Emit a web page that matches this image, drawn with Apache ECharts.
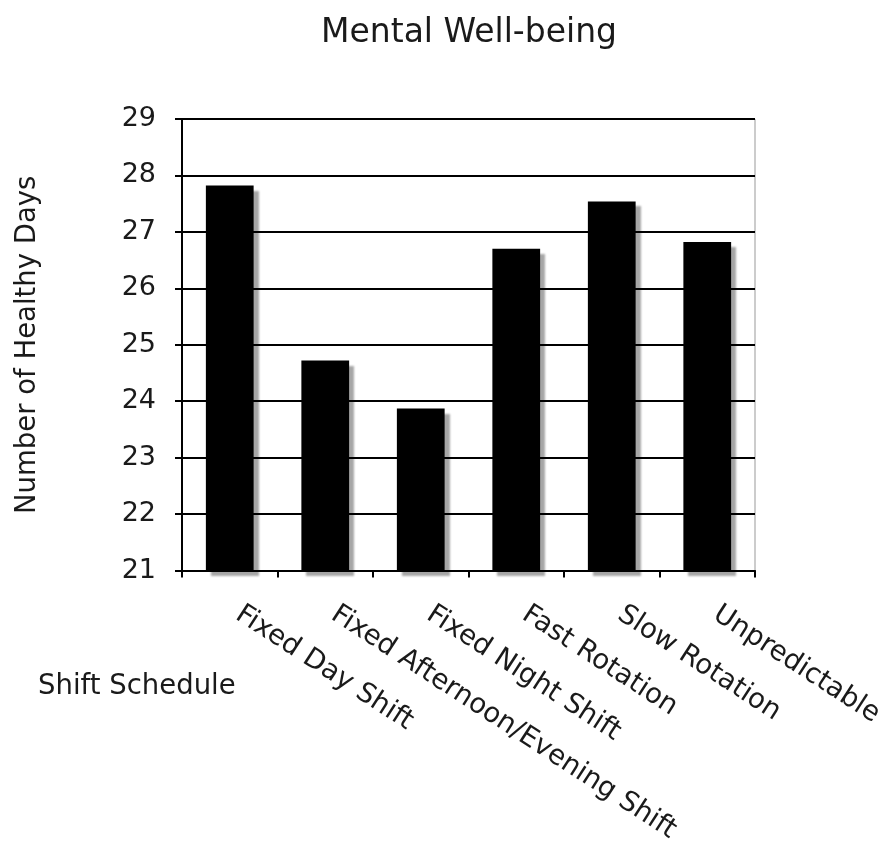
<!DOCTYPE html>
<html>
<head>
<meta charset="utf-8">
<style>
  html, body { margin: 0; padding: 0; background: #fff; }
  #chart { width: 895px; height: 846px; }
</style>
<script src="https://cdn.jsdelivr.net/npm/echarts@6/dist/echarts.min.js"></script>
</head>
<body>
<div id="chart"></div>
<script>
const categories = [
  'Fixed Day Shift',
  'Fixed Afternoon/Evening Shift',
  'Fixed Night Shift',
  'Fast Rotation',
  'Slow Rotation',
  'Unpredictable'
];
const healthyDays = [27.82, 24.72, 23.87, 26.70, 27.54, 26.82];
const yMin = 21;
const yMax = 29;

const font = '"DejaVu Sans", Verdana, sans-serif';
const chart = echarts.init(document.getElementById('chart'));

chart.setOption({
  animation: false,
  title: {
    text: 'Mental Well-being',
    left: 316,
    top: 12,
    textStyle: { fontFamily: font, fontSize: 33, fontWeight: 'normal', color: '#1a1a1a' }
  },
  graphic: [{
    type: 'text',
    left: 38,
    top: 673,
    style: { text: 'Shift Schedule', font: '27.5px ' + font, fill: '#1a1a1a' }
  }],
  grid: {
    left: 182, right: 140, top: 119, bottom: 273,
    show: true, borderColor: '#999', borderWidth: 1
  },
  xAxis: {
    type: 'category',
    data: categories,
    axisLine: { lineStyle: { color: '#000', width: 2 } },
    axisTick: { show: true, length: 7, lineStyle: { color: '#000', width: 2 } },
    axisLabel: {
      rotate: -33,
      margin: 36,
      padding: [0, 0, 0, 10],
      interval: 0,
      fontFamily: font,
      fontSize: 27.5,
      color: '#1a1a1a'
    }
  },
  yAxis: {
    type: 'value',
    min: yMin,
    max: yMax,
    interval: 1,
    name: 'Number of Healthy Days',
    nameLocation: 'middle',
    nameRotate: 90,
    nameGap: 140,
    nameTextStyle: { fontFamily: font, fontSize: 27.5, color: '#1a1a1a' },
    axisLine: { show: true, lineStyle: { color: '#000', width: 2 } },
    axisTick: { show: true, length: 7, lineStyle: { color: '#000', width: 2 } },
    axisLabel: { fontFamily: font, fontSize: 27, color: '#1a1a1a', margin: 26 },
    splitLine: { lineStyle: { color: '#000', width: 2 } }
  },
  series: [{
    type: 'bar',
    data: healthyDays,
    barWidth: '50%',
    itemStyle: {
      color: '#000',
      shadowColor: 'rgba(0,0,0,0.35)',
      shadowBlur: 2,
      shadowOffsetX: 5,
      shadowOffsetY: 5
    }
  }]
});
</script>
</body>
</html>
